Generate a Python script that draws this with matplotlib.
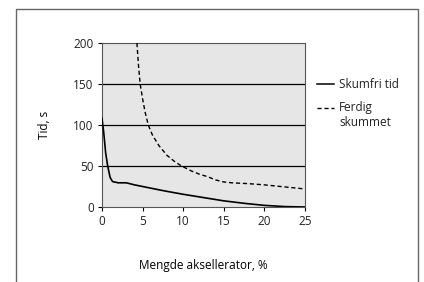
import numpy as np
import matplotlib.pyplot as plt
from matplotlib.patches import Rectangle
from matplotlib.lines import Line2D

plt.rcParams['font.family'] = ['Open Sans', 'DejaVu Sans']
plt.rcParams['font.size'] = 8
plt.rcParams['text.color'] = '#222222'

# Skumfri tid
x_skum = [0, 0.2, 0.45, 0.7, 1.0, 1.3, 2, 3, 4, 5, 7.5, 10, 12.5, 15, 17.5, 20, 22.5, 25]
y_skum = [108, 92, 66, 50, 36, 31, 29.5, 29.5, 27, 25, 20, 15.5, 11.5, 7.5, 4.5, 2, 0.5, 0]

# Ferdig skummet
x_ferdig = [4.3, 4.5, 4.7, 5.0, 5.3, 5.7, 6.2, 7.0, 8.0, 9.0, 9.8, 11, 12, 13, 14, 15, 16, 18, 20, 22, 25]
y_ferdig = [200, 172, 150, 132, 116, 100, 88, 75, 63, 55, 50, 44, 40, 37, 33, 30.5, 29.5, 28.5, 27, 25, 22]

fig = plt.figure(figsize=(4.24, 2.82), dpi=100)
ax = fig.add_axes([102/424, 1-207/282, 203/424, 164/282])

ax.set_facecolor('#e6e6e6')
for yv in [50, 100, 150]:
    ax.axhline(yv, color='black', lw=0.9, zorder=1)

ax.plot(x_skum, y_skum, color='black', lw=1.2, zorder=3)
ax.plot(x_ferdig, y_ferdig, color='black', lw=1.0, ls=(0, (3, 2)), zorder=3)

ax.set_xlim(0, 25)
ax.set_ylim(0, 200)
ax.set_xticks([0, 5, 10, 15, 20, 25])
ax.set_yticks([0, 50, 100, 150, 200])
ax.tick_params(direction='out', length=3, width=0.8, colors='black',
               labelcolor='#222222', labelsize=8.5, pad=3)
for s in ax.spines.values():
    s.set_color('#555555')
    s.set_linewidth(0.8)

ax.set_ylabel('Tid, s', fontsize=8.5, labelpad=16)
ax.set_xlabel('Mengde aksellerator, %', fontsize=8.5, labelpad=22)

# legend drawn by hand, so the handle sits on the first text line
def fx(px):
    return px / 424

def fy(py):
    return 1 - py / 282

fig.add_artist(Line2D([fx(317), fx(334)], [fy(84), fy(84)], color='black', lw=1.1))
fig.add_artist(Line2D([fx(317), fx(334)], [fy(108), fy(108)], color='black', lw=1.0,
                      ls=(0, (3, 2))))
fig.text(fx(339), fy(84), 'Skumfri tid', fontsize=8.5, va='center')
fig.text(fx(339), fy(108), 'Ferdig', fontsize=8.5, va='center')
fig.text(fx(339), fy(122), 'skummet', fontsize=8.5, va='center')

fig.patches.append(Rectangle((16/424, -0.1), 402/424, 1.1 - 9/282,
                             transform=fig.transFigure, fill=False,
                             edgecolor='#666666', lw=1.0))

fig.savefig('out.png', dpi=100)
